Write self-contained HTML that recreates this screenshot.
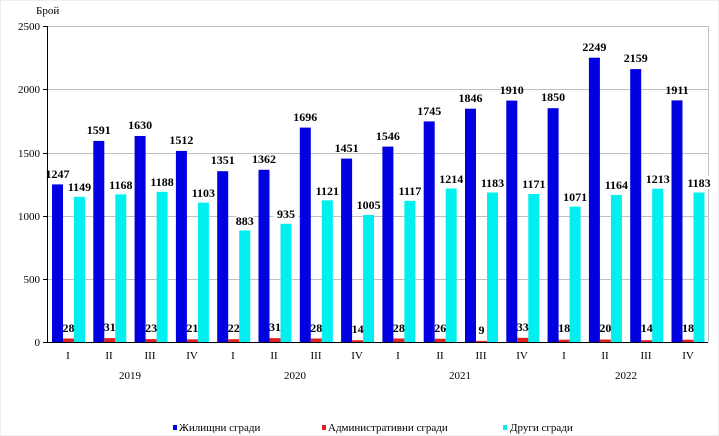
<!DOCTYPE html>
<html><head><meta charset="utf-8"><style>
body{margin:0;background:#fff}
svg{display:block}
text{font-family:"Liberation Serif",serif}
.v{font-size:12px;font-weight:bold;text-anchor:middle;fill:#000}
.a{font-size:11px;text-anchor:end}
.q{font-size:11px;text-anchor:middle}
</style></head><body>
<svg width="719" height="436" viewBox="0 0 719 436">
<rect x="0" y="0" width="719" height="436" fill="#fff" stroke="#ddd"/>
<text x="36" y="14" style="font-size:11px">Брой</text>
<g stroke="#c0c0c0" stroke-width="1">
<line x1="47" y1="26.5" x2="708" y2="26.5"/>
<line x1="47" y1="89.5" x2="708" y2="89.5"/>
<line x1="47" y1="153.5" x2="708" y2="153.5"/>
<line x1="47" y1="216.5" x2="708" y2="216.5"/>
<line x1="47" y1="279.5" x2="708" y2="279.5"/>
<line x1="708.5" y1="26" x2="708.5" y2="342"/>
</g>
<line x1="47.5" y1="26" x2="47.5" y2="342" stroke="#000"/>
<line x1="43" y1="26.5" x2="47" y2="26.5" stroke="#000"/>
<line x1="43" y1="89.5" x2="47" y2="89.5" stroke="#000"/>
<line x1="43" y1="153.5" x2="47" y2="153.5" stroke="#000"/>
<line x1="43" y1="216.5" x2="47" y2="216.5" stroke="#000"/>
<line x1="43" y1="279.5" x2="47" y2="279.5" stroke="#000"/>
<line x1="43" y1="342.5" x2="47" y2="342.5" stroke="#000"/>
<text class="a" x="40" y="30">2500</text>
<text class="a" x="40" y="93">2000</text>
<text class="a" x="40" y="157">1500</text>
<text class="a" x="40" y="220">1000</text>
<text class="a" x="40" y="283">500</text>
<text class="a" x="40" y="346">0</text>
<g fill="#0000e0">
<rect x="52" y="184.4" width="11" height="157.6"/>
<rect x="93.3" y="140.9" width="11" height="201.1"/>
<rect x="134.6" y="136" width="11" height="206"/>
<rect x="175.9" y="150.9" width="11" height="191.1"/>
<rect x="217.2" y="171.2" width="11" height="170.8"/>
<rect x="258.5" y="169.8" width="11" height="172.2"/>
<rect x="299.8" y="127.6" width="11" height="214.4"/>
<rect x="341.1" y="158.6" width="11" height="183.4"/>
<rect x="382.4" y="146.6" width="11" height="195.4"/>
<rect x="423.7" y="121.4" width="11" height="220.6"/>
<rect x="465" y="108.7" width="11" height="233.3"/>
<rect x="506.3" y="100.6" width="11" height="241.4"/>
<rect x="547.6" y="108.2" width="11" height="233.8"/>
<rect x="588.9" y="57.7" width="11" height="284.3"/>
<rect x="630.2" y="69.1" width="11" height="272.9"/>
<rect x="671.5" y="100.4" width="11" height="241.6"/>
</g>
<g fill="#e02020">
<rect x="63" y="338.5" width="11" height="3.5"/>
<rect x="104.3" y="338.1" width="11" height="3.9"/>
<rect x="145.6" y="339.1" width="11" height="2.9"/>
<rect x="186.9" y="339.3" width="11" height="2.7"/>
<rect x="228.2" y="339.2" width="11" height="2.8"/>
<rect x="269.5" y="338.1" width="11" height="3.9"/>
<rect x="310.8" y="338.5" width="11" height="3.5"/>
<rect x="352.1" y="340.2" width="11" height="1.8"/>
<rect x="393.4" y="338.5" width="11" height="3.5"/>
<rect x="434.7" y="338.7" width="11" height="3.3"/>
<rect x="476" y="340.9" width="11" height="1.1"/>
<rect x="517.3" y="337.8" width="11" height="4.2"/>
<rect x="558.6" y="339.7" width="11" height="2.3"/>
<rect x="599.9" y="339.5" width="11" height="2.5"/>
<rect x="641.2" y="340.2" width="11" height="1.8"/>
<rect x="682.5" y="339.7" width="11" height="2.3"/>
</g>
<g fill="#00f0f0">
<rect x="74" y="196.8" width="11" height="145.2"/>
<rect x="115.3" y="194.4" width="11" height="147.6"/>
<rect x="156.6" y="191.8" width="11" height="150.2"/>
<rect x="197.9" y="202.6" width="11" height="139.4"/>
<rect x="239.2" y="230.4" width="11" height="111.6"/>
<rect x="280.5" y="223.8" width="11" height="118.2"/>
<rect x="321.8" y="200.3" width="11" height="141.7"/>
<rect x="363.1" y="215" width="11" height="127"/>
<rect x="404.4" y="200.8" width="11" height="141.2"/>
<rect x="445.7" y="188.5" width="11" height="153.5"/>
<rect x="487" y="192.5" width="11" height="149.5"/>
<rect x="528.3" y="194" width="11" height="148"/>
<rect x="569.6" y="206.6" width="11" height="135.4"/>
<rect x="610.9" y="194.9" width="11" height="147.1"/>
<rect x="652.2" y="188.7" width="11" height="153.3"/>
<rect x="693.5" y="192.5" width="11" height="149.5"/>
</g>
<line x1="47" y1="342.5" x2="708" y2="342.5" stroke="#000"/>
<g class="v">
<text class="v" x="57.5" y="178">1247</text>
<text class="v" x="98.8" y="134">1591</text>
<text class="v" x="140.1" y="129">1630</text>
<text class="v" x="181.4" y="144">1512</text>
<text class="v" x="222.7" y="164">1351</text>
<text class="v" x="264" y="163">1362</text>
<text class="v" x="305.3" y="121">1696</text>
<text class="v" x="346.6" y="152">1451</text>
<text class="v" x="387.9" y="140">1546</text>
<text class="v" x="429.2" y="115">1745</text>
<text class="v" x="470.5" y="102">1846</text>
<text class="v" x="511.8" y="94">1910</text>
<text class="v" x="553.1" y="101">1850</text>
<text class="v" x="594.4" y="51">2249</text>
<text class="v" x="635.7" y="62">2159</text>
<text class="v" x="677" y="94">1911</text>
</g>
<g fill="#fff">
<rect x="67" y="180" width="25" height="13"/>
<rect x="108.3" y="178" width="25" height="13"/>
<rect x="149.6" y="175" width="25" height="13"/>
<rect x="190.9" y="186" width="25" height="13"/>
<rect x="236.2" y="214" width="17" height="13"/>
<rect x="273.5" y="207" width="25" height="13"/>
<rect x="314.8" y="184" width="25" height="13"/>
<rect x="356.1" y="198" width="25" height="13"/>
<rect x="397.4" y="184" width="25" height="13"/>
<rect x="438.7" y="172" width="25" height="13"/>
<rect x="480" y="176" width="25" height="13"/>
<rect x="521.3" y="177" width="25" height="13"/>
<rect x="562.6" y="190" width="25" height="13"/>
<rect x="603.9" y="178" width="25" height="13"/>
<rect x="645.2" y="172" width="25" height="13"/>
<rect x="686.5" y="176" width="25" height="13"/>
</g>
<text class="v" x="79.5" y="191">1149</text>
<text class="v" x="120.8" y="189">1168</text>
<text class="v" x="162.1" y="186">1188</text>
<text class="v" x="203.4" y="197">1103</text>
<text class="v" x="244.7" y="225">883</text>
<text class="v" x="286" y="218">935</text>
<text class="v" x="327.3" y="195">1121</text>
<text class="v" x="368.6" y="209">1005</text>
<text class="v" x="409.9" y="195">1117</text>
<text class="v" x="451.2" y="183">1214</text>
<text class="v" x="492.5" y="187">1183</text>
<text class="v" x="533.8" y="188">1171</text>
<text class="v" x="575.1" y="201">1071</text>
<text class="v" x="616.4" y="189">1164</text>
<text class="v" x="657.7" y="183">1213</text>
<text class="v" x="699" y="187">1183</text>
<text class="v" x="68.5" y="332">28</text>
<text class="v" x="109.8" y="331">31</text>
<text class="v" x="151.1" y="332">23</text>
<text class="v" x="192.4" y="332">21</text>
<text class="v" x="233.7" y="332">22</text>
<text class="v" x="275" y="331">31</text>
<text class="v" x="316.3" y="332">28</text>
<text class="v" x="357.6" y="333">14</text>
<text class="v" x="398.9" y="332">28</text>
<text class="v" x="440.2" y="332">26</text>
<text class="v" x="481.5" y="334">9</text>
<text class="v" x="522.8" y="331">33</text>
<text class="v" x="564.1" y="332">18</text>
<text class="v" x="605.4" y="332">20</text>
<text class="v" x="646.7" y="332">14</text>
<text class="v" x="688" y="332">18</text>
<g class="q">
<text class="q" x="68" y="359">I</text>
<text class="q" x="109" y="359">II</text>
<text class="q" x="150" y="359">III</text>
<text class="q" x="192" y="359">IV</text>
<text class="q" x="233" y="359">I</text>
<text class="q" x="274" y="359">II</text>
<text class="q" x="316" y="359">III</text>
<text class="q" x="357" y="359">IV</text>
<text class="q" x="398" y="359">I</text>
<text class="q" x="440" y="359">II</text>
<text class="q" x="481" y="359">III</text>
<text class="q" x="522" y="359">IV</text>
<text class="q" x="564" y="359">I</text>
<text class="q" x="605" y="359">II</text>
<text class="q" x="646" y="359">III</text>
<text class="q" x="688" y="359">IV</text>
<text class="q" x="130" y="379">2019</text>
<text class="q" x="295" y="379">2020</text>
<text class="q" x="460" y="379">2021</text>
<text class="q" x="626" y="379">2022</text>
</g>
<rect x="173" y="425" width="4" height="5" fill="#0000e0"/>
<text x="179" y="431" style="font-size:11px">Жилищни сгради</text>
<rect x="322" y="425" width="4" height="5" fill="#e02020"/>
<text x="328" y="431" style="font-size:11px">Административни сгради</text>
<rect x="503" y="425" width="4" height="5" fill="#00f0f0"/>
<text x="510" y="431" style="font-size:11px">Други сгради</text>
</svg>
</body></html>
